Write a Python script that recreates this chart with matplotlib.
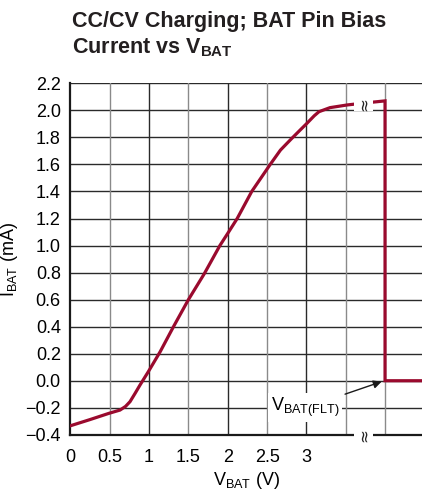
import matplotlib.pyplot as plt
import numpy as np

# data
v_bat = [0.0, 0.25, 0.49, 0.63, 0.7, 0.757, 0.82, 0.884, 0.99, 1.14, 1.31, 1.5, 1.7, 1.9,
         2.0, 2.12, 2.305, 2.54, 2.67, 2.81, 2.92, 3.0, 3.1, 3.16, 3.3, 3.52, 3.75, 4.0,
         4.0, 4.5]
i_bat = [-0.333, -0.287, -0.241, -0.217, -0.19, -0.155, -0.095, -0.032, 0.067, 0.214, 0.40, 0.6,
         0.79, 1.0, 1.09, 1.20, 1.40, 1.6, 1.706, 1.79, 1.854, 1.9, 1.96, 1.99, 2.02, 2.04, 2.055,
         2.07, 0.0, 0.0]
xticks = [0, 0.5, 1, 1.5, 2, 2.5, 3]
xticklabels = ['0', '0.5', '1', '1.5', '2', '2.5', '3']
yticks = np.round(np.arange(-0.4, 2.21, 0.2), 1)

font = ['Liberation Sans Narrow', 'Liberation Sans', 'DejaVu Sans']
plt.rcParams['font.family'] = font

fig = plt.figure(figsize=(4.22, 4.95), dpi=100)
ax = fig.add_axes([0.167, 0.1216, 0.833, 0.7101])

# grid
for y in yticks:
    ax.axhline(y, color='#2a2a2a', lw=1.0, zorder=1)
for x in [1, 2, 3]:
    ax.axvline(x, color='#2a2a2a', lw=1.0, zorder=1)
for x in [0.5, 1.5, 2.5, 3.5, 4.0]:
    ax.axvline(x, color='#8a8a8a', lw=1.0, zorder=1)

ax.plot(v_bat, i_bat, color='#9a0a2e', lw=2.3, solid_joinstyle='miter', zorder=3)

ax.set_xlim(0, 4.47)
ax.set_ylim(-0.4, 2.2)
ax.set_xticks(xticks)
ax.set_xticklabels(xticklabels)
ax.set_yticks(yticks)
ax.set_yticklabels([f'{y:.1f}'.replace('-', '\u2212') for y in yticks])
ax.tick_params(axis='x', length=0, labelsize=13, pad=10)
ax.tick_params(axis='y', length=0, labelsize=13, pad=7)
for s in ['right', 'top']:
    ax.spines[s].set_visible(False)
for s in ['left', 'bottom']:
    ax.spines[s].set_linewidth(1.6)
    ax.spines[s].set_color('#1a1a1a')

# axis break marks
for yb in [2.05, -0.4]:
    ax.text(3.73, yb, '\u2248', rotation=90, ha='center', va='center', fontsize=12,
            color='#222222', zorder=5, family='DejaVu Sans',
            bbox=dict(boxstyle='square,pad=0.02', fc='white', ec='none'))

ax.annotate('V$_{\\mathregular{BAT(FLT)}}$', xy=(3.99, 0.0), xytext=(2.55, -0.2),
            fontsize=13, ha='left', va='center', zorder=6,
            bbox=dict(boxstyle='square,pad=0.15', fc='white', ec='none'),
            arrowprops=dict(arrowstyle='-|>', color='#1a1a1a', lw=1.0,
                            shrinkA=2, shrinkB=2, mutation_scale=12))

ax.set_xlabel('V$_{\\mathregular{BAT}}$ (V)', fontsize=13, labelpad=3)
ax.set_ylabel('I$_{\\mathregular{BAT}}$ (mA)', fontsize=13, labelpad=4)

fig.text(0.17, 0.978, 'CC/CV Charging; BAT Pin Bias\nCurrent vs V$_{\\mathregular{BAT}}$',
         fontsize=15.5, fontweight='bold', ha='left', va='top', linespacing=1.25,
         color='#231f20')

fig.savefig('out.png', dpi=100)
